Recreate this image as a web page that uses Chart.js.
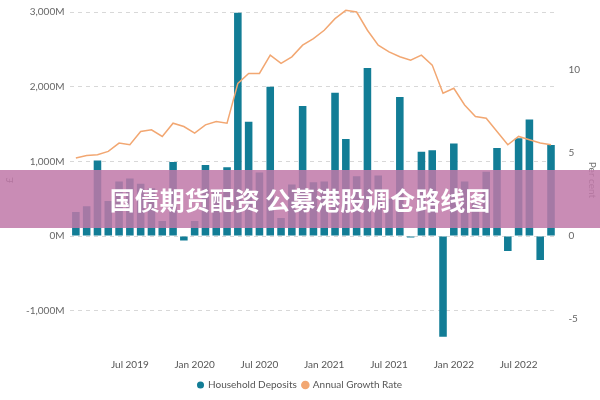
<!DOCTYPE html>
<html>
<head>
<meta charset="utf-8">
<script src="https://cdn.jsdelivr.net/npm/chart.js@4"></script>
<style>
body { margin: 0; background: #fff; }
#wrap { position: relative; width: 600px; height: 400px; }
#banner { position: absolute; left: 0; top: 170px; width: 600px; height: 58px; background: rgba(192,120,168,0.85);
  color: #fff; font: bold 25px "Noto Sans CJK SC", sans-serif; line-height: 58px; text-align: center; }
</style>
</head>
<body>
<div id="wrap">
<canvas id="chart1" width="600" height="400"></canvas>
<div id="banner">国债期货配资 公募港股调仓路线图</div>
</div>
<script>
var months = ["Feb 2019","Mar 2019","Apr 2019","May 2019","Jun 2019","Jul 2019","Aug 2019","Sep 2019","Oct 2019","Nov 2019","Dec 2019",
  "Jan 2020","Feb 2020","Mar 2020","Apr 2020","May 2020","Jun 2020","Jul 2020","Aug 2020","Sep 2020","Oct 2020","Nov 2020","Dec 2020",
  "Jan 2021","Feb 2021","Mar 2021","Apr 2021","May 2021","Jun 2021","Jul 2021","Aug 2021","Sep 2021","Oct 2021","Nov 2021","Dec 2021",
  "Jan 2022","Feb 2022","Mar 2022","Apr 2022","May 2022","Jun 2022","Jul 2022","Aug 2022","Sep 2022","Oct 2022"]
var deposits = [320,400,1010,470,730,770,700,640,200,990,-60,200,950,600,920,2990,1530,850,2000,240,690,1740,
  720,730,1920,1300,800,2250,810,500,1860,-20,1130,1150,-1350,1240,730,450,860,1180,-200,1310,1560,-320,1220]
var growth = [4.7,4.85,4.9,5.1,5.6,5.5,6.3,6.4,6.0,6.8,6.6,6.2,6.7,6.9,6.8,9.2,9.8,9.8,10.9,10.4,10.8,11.5,
  11.9,12.4,13.1,13.6,13.5,12.4,11.5,11.1,10.8,10.6,10.9,10.3,8.6,8.9,7.9,7.2,7.1,6.3,5.5,6.0,5.8,5.6,5.5]
var leftTicks = [-1000, 0, 1000, 2000, 3000]
var rightTicks = [-5, 0, 5, 10]

var font = { family: "Lato", size: 10 }
new Chart(document.getElementById('chart1'), {
  data: {
    labels: months,
    datasets: [
      { type: 'line', label: 'Annual Growth Rate', data: growth, yAxisID: 'y1', borderColor: '#f2a772',
        backgroundColor: '#f2a772', borderWidth: 1.5, pointRadius: 0, tension: 0, clip: false, order: 0 },
      { type: 'bar', label: 'Household Deposits', data: deposits, yAxisID: 'y', backgroundColor: '#127d96',
        barPercentage: 0.7, categoryPercentage: 1, order: 1 }
    ]
  },
  options: {
    responsive: false, animation: false,
    layout: { padding: { top: 10, right: 0, left: 0, bottom: 0 } },
    scales: {
      x: { grid: { display: false }, border: { display: false },
        ticks: { color: '#555', font: font, maxRotation: 0, autoSkip: false,
          callback: function (v, i) { var m = months[i]; return (m.startsWith('Jul') || m.startsWith('Jan')) ? m : '' } } },
      y: { position: 'left', min: -1500, max: 3000, border: { display: true, width: 0, dash: [4, 4] },
        grid: { color: '#d8d8d8', drawTicks: false },
        title: { display: true, text: '£', color: '#666', font: font },
        afterBuildTicks: function (s) { s.ticks = leftTicks.map(function (v) { return { value: v } }) },
        ticks: { color: '#666', font: font, padding: 6,
          callback: function (v) { return v === 0 ? '0M' : v.toLocaleString('en-US') + 'M' } } },
      y1: { position: 'right', min: -6.75, max: 13.5, grid: { display: false }, border: { display: false },
        title: { display: true, text: 'Per cent', color: '#777', font: font, padding: 2 },
        afterBuildTicks: function (s) { s.ticks = rightTicks.map(function (v) { return { value: v } }) },
        ticks: { color: '#666', font: font, padding: 4 } }
    },
    plugins: {
      legend: { position: 'bottom', reverse: true,
        labels: { usePointStyle: true, pointStyle: 'circle', boxWidth: 5, boxHeight: 5, color: '#555', font: font, padding: 6 } },
      tooltip: { enabled: false }
    }
  }
})
</script>
</body>
</html>
